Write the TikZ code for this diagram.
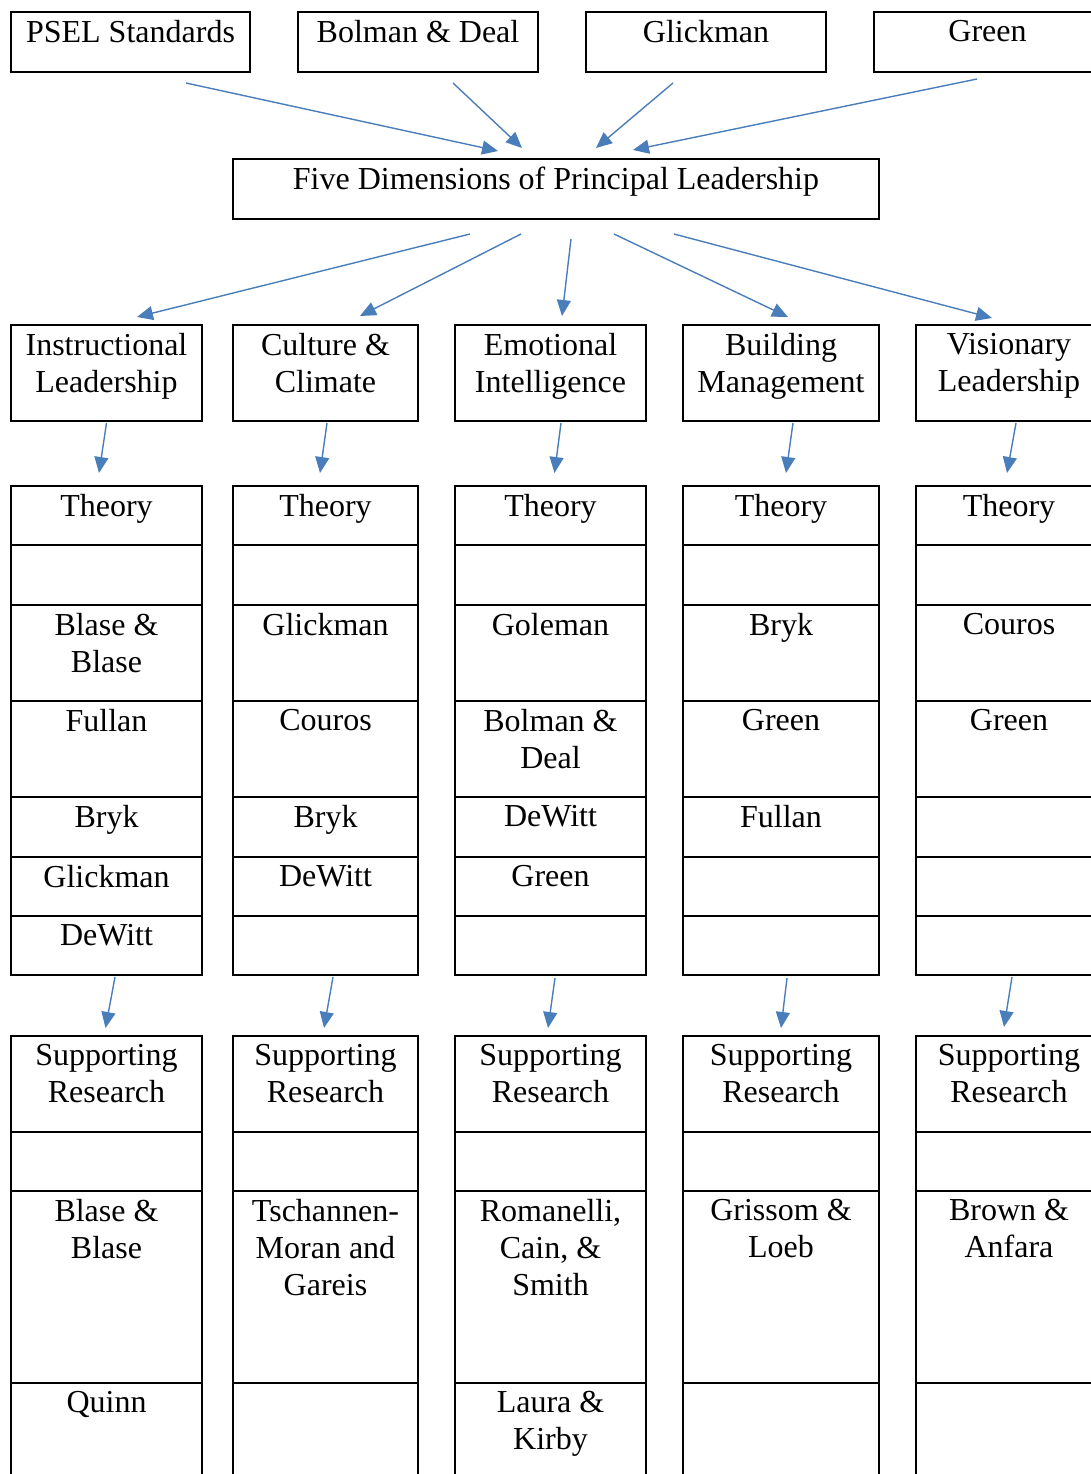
\documentclass[tikz,border=0pt]{standalone}
\usepackage{fontspec}
\setmainfont{Liberation Serif}
\usepackage{tikz}
\usetikzlibrary{arrows.meta,calc}
\definecolor{arrowblue}{RGB}{74,126,187}
\newcommand{\cellfont}{\fontsize{32}{37}\selectfont}
\tikzstyle{box} = [draw, line width=1.6pt, rectangle, anchor=north west, inner sep=0pt, outer sep=0pt]
\tikzstyle{txt} = [anchor=north, yshift=-8pt, inner sep=0pt, align=center, font=\cellfont]
\tikzstyle{arr} = [-{Triangle[length=16pt,width=14pt]}, line width=1.4pt, arrowblue]

\begin{document}
\begin{tikzpicture}[x=1pt,y=-1pt]
\useasboundingbox (0,0) rectangle (1091,1474);
    \clip (0,0) rectangle (1091,1474);

    % sources
    \node[box, minimum width=239, minimum height=60, label={[txt]north:PSEL Standards}] (psel) at (11,12) {};
    \node[box, minimum width=240, minimum height=60, label={[txt]north:Bolman \& Deal}] (bolman) at (298,12) {};
    \node[box, minimum width=240, minimum height=60, label={[txt]north:Glickman}] (glick) at (586,12) {};
    \node[box, minimum width=227, minimum height=60, label={[txt]north:Green}] (green) at (874,12) {};

    \node[box, minimum width=646, minimum height=60, label={[txt]north:Five Dimensions of Principal Leadership}] (five) at (233,159) {};

    \draw[arr] ($(psel.south)+(55.5,11)$) -- ($(five.north)+(-58,-8)$);
    \draw[arr] ($(bolman.south)+(35,11)$) -- ($(five.north)+(-34,-11)$);
    \draw[arr] ($(glick.south)+(-33,11)$) -- ($(five.north)+(40,-11)$);
    \draw[arr] ($(green.south)+(-10.5,7)$) -- ($(five.north)+(77,-9)$);

    % dimensions
    \node[box, minimum width=191, minimum height=96, label={[txt]north:Instructional\\Leadership}] (instr) at (11,325) {};
    \node[box, minimum width=185, minimum height=96, label={[txt]north:Culture \&\\Climate}] (cult) at (233,325) {};
    \node[box, minimum width=191, minimum height=96, label={[txt]north:Emotional\\Intelligence}] (emot) at (455,325) {};
    \node[box, minimum width=196, minimum height=96, label={[txt]north:Building\\Management}] (build) at (683,325) {};
    \node[box, minimum width=186, minimum height=96, label={[txt]north:Visionary\\Leadership}] (vision) at (916,325) {};

    \draw[arr] ($(five.south)+(-86,15)$) -- ($(instr.north)+(30.5,-8)$);
    \draw[arr] ($(five.south)+(-35,15)$) -- ($(cult.north)+(34.5,-9)$);
    \draw[arr] ($(five.south)+(15,20)$) -- ($(emot.north)+(11.5,-9)$);
    \draw[arr] ($(five.south)+(58,15)$) -- ($(build.north)+(7,-8)$);
    \draw[arr] ($(five.south)+(118,15)$) -- ($(vision.north)+(-17,-7)$);

    % theory
    \node[box, minimum width=191, minimum height=59, label={[txt]north:Theory}] (ti1) at (11,486) {};
    \node[box, minimum width=191, minimum height=60] (ti2) at (ti1.south west) {};
    \node[box, minimum width=191, minimum height=96, label={[txt]north:Blase \&\\Blase}] (ti3) at (ti2.south west) {};
    \node[box, minimum width=191, minimum height=96, label={[txt]north:Fullan}] (ti4) at (ti3.south west) {};
    \node[box, minimum width=191, minimum height=60, label={[txt]north:Bryk}] (ti5) at (ti4.south west) {};
    \node[box, minimum width=191, minimum height=59, label={[txt]north:Glickman}] (ti6) at (ti5.south west) {};
    \node[box, minimum width=191, minimum height=59, label={[txt]north:DeWitt}] (ti7) at (ti6.south west) {};

    \node[box, minimum width=185, minimum height=59, label={[txt]north:Theory}] (tc1) at (233,486) {};
    \node[box, minimum width=185, minimum height=60] (tc2) at (tc1.south west) {};
    \node[box, minimum width=185, minimum height=96, label={[txt]north:Glickman}] (tc3) at (tc2.south west) {};
    \node[box, minimum width=185, minimum height=96, label={[txt]north:Couros}] (tc4) at (tc3.south west) {};
    \node[box, minimum width=185, minimum height=60, label={[txt]north:Bryk}] (tc5) at (tc4.south west) {};
    \node[box, minimum width=185, minimum height=59, label={[txt]north:DeWitt}] (tc6) at (tc5.south west) {};
    \node[box, minimum width=185, minimum height=59] (tc7) at (tc6.south west) {};

    \node[box, minimum width=191, minimum height=59, label={[txt]north:Theory}] (te1) at (455,486) {};
    \node[box, minimum width=191, minimum height=60] (te2) at (te1.south west) {};
    \node[box, minimum width=191, minimum height=96, label={[txt]north:Goleman}] (te3) at (te2.south west) {};
    \node[box, minimum width=191, minimum height=96, label={[txt]north:Bolman \&\\Deal}] (te4) at (te3.south west) {};
    \node[box, minimum width=191, minimum height=60, label={[txt]north:DeWitt}] (te5) at (te4.south west) {};
    \node[box, minimum width=191, minimum height=59, label={[txt]north:Green}] (te6) at (te5.south west) {};
    \node[box, minimum width=191, minimum height=59] (te7) at (te6.south west) {};

    \node[box, minimum width=196, minimum height=59, label={[txt]north:Theory}] (tb1) at (683,486) {};
    \node[box, minimum width=196, minimum height=60] (tb2) at (tb1.south west) {};
    \node[box, minimum width=196, minimum height=96, label={[txt]north:Bryk}] (tb3) at (tb2.south west) {};
    \node[box, minimum width=196, minimum height=96, label={[txt]north:Green}] (tb4) at (tb3.south west) {};
    \node[box, minimum width=196, minimum height=60, label={[txt]north:Fullan}] (tb5) at (tb4.south west) {};
    \node[box, minimum width=196, minimum height=59] (tb6) at (tb5.south west) {};
    \node[box, minimum width=196, minimum height=59] (tb7) at (tb6.south west) {};

    \node[box, minimum width=186, minimum height=59, label={[txt]north:Theory}] (tv1) at (916,486) {};
    \node[box, minimum width=186, minimum height=60] (tv2) at (tv1.south west) {};
    \node[box, minimum width=186, minimum height=96, label={[txt]north:Couros}] (tv3) at (tv2.south west) {};
    \node[box, minimum width=186, minimum height=96, label={[txt]north:Green}] (tv4) at (tv3.south west) {};
    \node[box, minimum width=186, minimum height=60] (tv5) at (tv4.south west) {};
    \node[box, minimum width=186, minimum height=59] (tv6) at (tv5.south west) {};
    \node[box, minimum width=186, minimum height=59] (tv7) at (tv6.south west) {};

    \draw[arr] ($(instr.south)+(0,2)$) -- ($(ti1.north)+(-7.5,-13)$);
    \draw[arr] ($(cult.south)+(1.5,2)$) -- ($(tc1.north)+(-5.5,-13)$);
    \draw[arr] ($(emot.south)+(10.5,2)$) -- ($(te1.north)+(4,-13)$);
    \draw[arr] ($(build.south)+(12,2)$) -- ($(tb1.north)+(5,-13)$);
    \draw[arr] ($(vision.south)+(7,2)$) -- ($(tv1.north)+(-2,-13)$);

    % supporting research
    \node[box, minimum width=191, minimum height=96, label={[txt]north:Supporting\\Research}] (si1) at (11,1036) {};
    \node[box, minimum width=191, minimum height=59] (si2) at (si1.south west) {};
    \node[box, minimum width=191, minimum height=192, label={[txt]north:Blase \&\\Blase}] (si3) at (si2.south west) {};
    \node[box, minimum width=191, minimum height=140, label={[txt]north:Quinn}] (si4) at (si3.south west) {};

    \node[box, minimum width=185, minimum height=96, label={[txt]north:Supporting\\Research}] (sc1) at (233,1036) {};
    \node[box, minimum width=185, minimum height=59] (sc2) at (sc1.south west) {};
    \node[box, minimum width=185, minimum height=192, label={[txt]north:Tschannen-\\Moran and\\Gareis}] (sc3) at (sc2.south west) {};
    \node[box, minimum width=185, minimum height=140] (sc4) at (sc3.south west) {};

    \node[box, minimum width=191, minimum height=96, label={[txt]north:Supporting\\Research}] (se1) at (455,1036) {};
    \node[box, minimum width=191, minimum height=59] (se2) at (se1.south west) {};
    \node[box, minimum width=191, minimum height=192, label={[txt]north:{Romanelli,\\Cain, \&\\Smith}}] (se3) at (se2.south west) {};
    \node[box, minimum width=191, minimum height=140, label={[txt]north:Laura \&\\Kirby}] (se4) at (se3.south west) {};

    \node[box, minimum width=196, minimum height=96, label={[txt]north:Supporting\\Research}] (sb1) at (683,1036) {};
    \node[box, minimum width=196, minimum height=59] (sb2) at (sb1.south west) {};
    \node[box, minimum width=196, minimum height=192, label={[txt]north:Grissom \&\\Loeb}] (sb3) at (sb2.south west) {};
    \node[box, minimum width=196, minimum height=140] (sb4) at (sb3.south west) {};

    \node[box, minimum width=186, minimum height=96, label={[txt]north:Supporting\\Research}] (sv1) at (916,1036) {};
    \node[box, minimum width=186, minimum height=59] (sv2) at (sv1.south west) {};
    \node[box, minimum width=186, minimum height=192, label={[txt]north:Brown \&\\Anfara}] (sv3) at (sv2.south west) {};
    \node[box, minimum width=186, minimum height=140] (sv4) at (sv3.south west) {};

    \draw[arr] ($(ti7.south)+(8.5,2)$) -- ($(si1.north)+(-1,-8)$);
    \draw[arr] ($(tc7.south)+(7.5,2)$) -- ($(sc1.north)+(-1.5,-8)$);
    \draw[arr] ($(te7.south)+(4.5,3)$) -- ($(se1.north)+(-2.5,-8)$);
    \draw[arr] ($(tb7.south)+(6,3)$) -- ($(sb1.north)+(0,-8)$);
    \draw[arr] ($(tv7.south)+(3,2)$) -- ($(sv1.north)+(-5,-9)$);
\end{tikzpicture}
\end{document}
